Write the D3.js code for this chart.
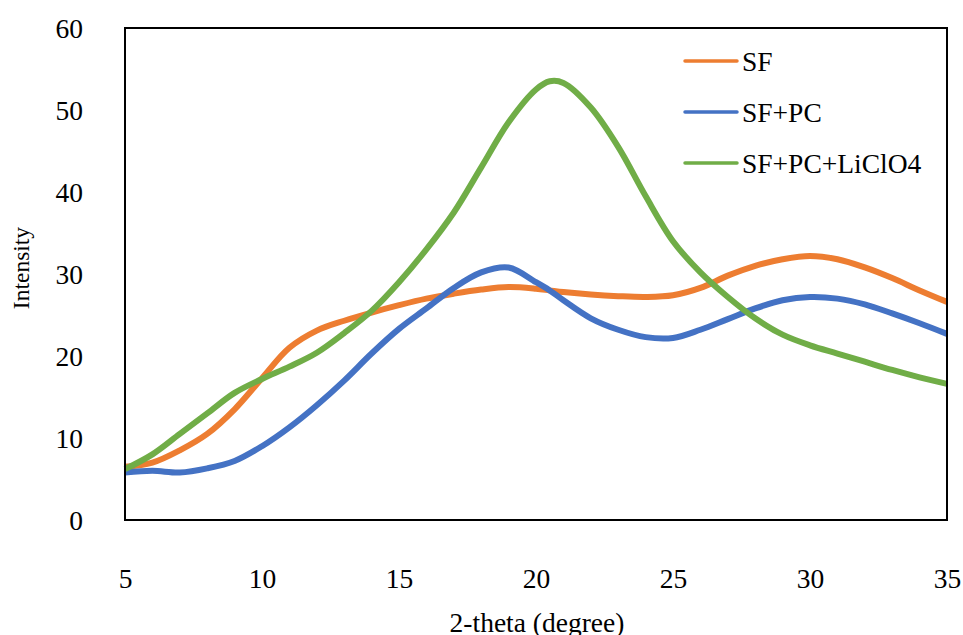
<!DOCTYPE html>
<html>
<head>
<meta charset="utf-8">
<script src="https://cdn.jsdelivr.net/npm/d3@7"></script>
<style>
  html, body { margin: 0; padding: 0; background: #fff; }
  svg { display: block; }
  text { font-family: "Liberation Serif", "Times New Roman", serif; fill: #000; }
</style>
</head>
<body>
<svg id="chart" width="963" height="635"></svg>
<script>
const xTicks = [5, 10, 15, 20, 25, 30, 35];
const yTicks = [0, 10, 20, 30, 40, 50, 60];
const seriesNames = ["SF", "SF+PC", "SF+PC+LiClO4"];
const seriesColors = ["#ED7D31", "#4472C4", "#70AD47"];

const theta = [5, 6, 7, 8, 9, 10, 11, 12, 13, 14, 15, 16, 17, 18, 19, 20, 20.5, 21, 22, 23, 24, 25, 26, 27, 28, 29, 30, 31, 32, 33, 34, 35];
const sf = [6.5, 7.0, 8.5, 10.5, 13.5, 17.3, 21.0, 23.1, 24.3, 25.3, 26.2, 27.0, 27.6, 28.1, 28.4, 28.2, 28.0, 27.8, 27.5, 27.3, 27.2, 27.4, 28.3, 29.8, 31.0, 31.8, 32.2, 31.8, 30.8, 29.5, 28.0, 26.6];
const sfpc = [5.8, 6.0, 5.8, 6.3, 7.2, 9.0, 11.3, 14.0, 17.0, 20.3, 23.3, 25.8, 28.3, 30.2, 30.8, 29.0, 28.0, 26.8, 24.6, 23.2, 22.3, 22.2, 23.2, 24.5, 25.8, 26.8, 27.2, 27.0, 26.3, 25.2, 24.0, 22.7];
const sfpcli = [6.2, 8.0, 10.5, 13.0, 15.5, 17.2, 18.7, 20.4, 22.8, 25.5, 29.0, 33.0, 37.5, 43.0, 48.5, 52.5, 53.5, 53.3, 50.3, 45.5, 39.5, 34.0, 30.2, 27.2, 24.6, 22.6, 21.3, 20.3, 19.3, 18.3, 17.4, 16.6];
const seriesValues = [sf, sfpc, sfpcli];

const FS = 27.5;    // font size of ticks, legend, x title
const FSY = 23.5;   // font size of y title

const svg = d3.select("#chart");
const margin = { left: 125, top: 28, right: 947, bottom: 520 };
const x = d3.scaleLinear().domain([5, 35]).range([margin.left, margin.right]);
const y = d3.scaleLinear().domain([0, 60]).range([margin.bottom, margin.top]);

// lines
const line = d3.line().x(d => x(d[0])).y(d => y(d[1])).curve(d3.curveCatmullRom.alpha(0.5));
seriesValues.forEach((vals, i) => {
  const pts = theta.map((t, j) => [t, vals[j]]);
  svg.append("path").datum(pts)
    .attr("d", line)
    .attr("fill", "none")
    .attr("stroke", seriesColors[i])
    .attr("stroke-width", 6)
    .attr("stroke-linejoin", "round");
});

// plot frame
svg.append("rect")
  .attr("x", margin.left).attr("y", margin.top)
  .attr("width", margin.right - margin.left)
  .attr("height", margin.bottom - margin.top)
  .attr("fill", "none").attr("stroke", "#000").attr("stroke-width", 2);

// y axis labels
const yAxis = d3.axisLeft(y).tickValues(yTicks).tickSize(0);
const gy = svg.append("g").attr("transform", `translate(${margin.left},0)`).call(yAxis);
gy.select(".domain").remove();
gy.selectAll("text")
  .attr("x", -42).attr("dy", "0.35em")
  .attr("text-anchor", "end")
  .style("font-size", FS + "px").style("font-family", "Liberation Serif, serif");

// x axis labels
const xAxis = d3.axisBottom(x).tickValues(xTicks).tickSize(0);
const gx = svg.append("g").attr("transform", `translate(0,${margin.bottom})`).call(xAxis);
gx.select(".domain").remove();
gx.selectAll("text")
  .attr("y", 58).attr("dy", "0.35em")
  .style("font-size", FS + "px").style("font-family", "Liberation Serif, serif");

// titles
svg.append("text")
  .attr("x", (margin.left + margin.right) / 2 + 1).attr("y", 632)
  .attr("text-anchor", "middle").style("font-size", FS + "px").text("2-theta (degree)");
svg.append("text")
  .attr("transform", `translate(29,268) rotate(-90)`)
  .attr("text-anchor", "middle").style("font-size", FSY + "px").text("Intensity");

// legend
const legendY = [61, 112, 163];
seriesNames.forEach((name, i) => {
  svg.append("line").attr("x1", 685).attr("x2", 737)
    .attr("y1", legendY[i]).attr("y2", legendY[i])
    .attr("stroke", seriesColors[i]).attr("stroke-width", 3.5).attr("stroke-linecap", "round");
  svg.append("text")
    .attr("x", 742).attr("y", legendY[i])
    .attr("dy", "0.35em")
    .style("font-size", FS + "px").text(name);
});
</script>
</body>
</html>
